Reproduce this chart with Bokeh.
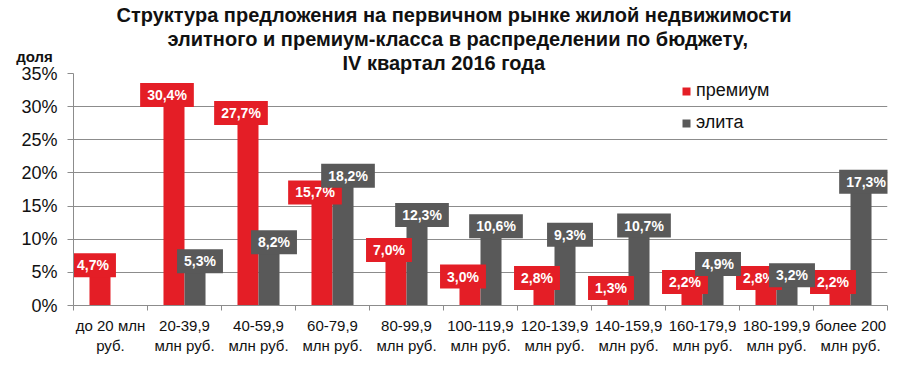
import numpy as np
from bokeh.plotting import figure
from bokeh.models import (ColumnDataSource, Range1d, FixedTicker, Label, Title,
                          Legend, LegendItem, PrintfTickFormatter)
from bokeh.core.properties import value
from bokeh.embed import file_html
from bokeh.resources import INLINE

categories = ["до 20 млн\nруб.", "20-39,9\nмлн руб.", "40-59,9\nмлн руб.", "60-79,9\nмлн руб.",
              "80-99,9\nмлн руб.", "100-119,9\nмлн руб.", "120-139,9\nмлн руб.", "140-159,9\nмлн руб.",
              "160-179,9\nмлн руб.", "180-199,9\nмлн руб.", "более 200\nмлн руб."]
premium = [4.7, 30.4, 27.7, 15.7, 7.0, 3.0, 2.8, 1.3, 2.2, 2.8, 2.2]
elite = [None, 5.3, 8.2, 18.2, 12.3, 10.6, 9.3, 10.7, 4.9, 3.2, 17.3]
y_ticks = [0, 5, 10, 15, 20, 25, 30, 35]
title_lines = ["Структура  предложения на первичном рынке жилой недвижимости",
               "элитного и премиум-класса в распределении по бюджету,",
               "IV квартал 2016 года"]
series_names = ["премиум", "элита"]
y_title = "доля"

RED = "#E41E26"
GREY = "#595959"
GRID = "#8C8C8C"
FONT = "Liberation Sans, Arial, sans-serif"

n = len(categories)
centers = np.arange(n) + 0.5
bw = 0.284

def fmt(v):
    return ("%.1f" % v).replace(".", ",") + "%"

src_p = ColumnDataSource(dict(x=centers - bw / 2, top=premium,
                              label=[fmt(v) for v in premium]))
ei = [i for i, v in enumerate(elite) if v is not None]
src_e = ColumnDataSource(dict(x=[centers[i] + bw / 2 for i in ei], top=[elite[i] for i in ei],
                              label=[fmt(elite[i]) for i in ei]))

p = figure(width=910, height=376, output_backend="svg", toolbar_location=None,
           x_range=Range1d(0, n), y_range=Range1d(0, 35),
           min_border_left=73, min_border_right=23, min_border_top=73, min_border_bottom=71)
p.title_location = None
p.outline_line_color = None
p.background_fill_color = "white"

rp = p.vbar(x="x", top="top", width=bw, source=src_p, fill_color=RED, line_color=None)
re_ = p.vbar(x="x", top="top", width=bw, source=src_e, fill_color=GREY, line_color=None)

# axes
p.xaxis.ticker = FixedTicker(ticks=list(centers), minor_ticks=list(range(n + 1)))
p.xaxis.major_label_overrides = {float(c): categories[i] for i, c in enumerate(centers)}
p.xaxis.major_tick_line_color = None
p.xaxis.major_tick_out = 5
p.xaxis.major_tick_in = 0
p.xaxis.minor_tick_in = 0
p.xaxis.minor_tick_out = 5
p.xaxis.minor_tick_line_color = GRID
p.xaxis.axis_line_color = GRID
p.xaxis.major_label_text_font = FONT
p.xaxis.major_label_text_font_size = "15px"
p.xaxis.major_label_text_color = "#111111"
p.xaxis.major_label_standoff = 6

p.yaxis.ticker = FixedTicker(ticks=y_ticks)
p.yaxis.formatter = PrintfTickFormatter(format="%d%%")
p.yaxis.major_tick_out = 6
p.yaxis.major_tick_in = 0
p.yaxis.minor_tick_line_color = None
p.yaxis.major_tick_line_color = GRID
p.yaxis.axis_line_color = GRID
p.yaxis.major_label_text_font = FONT
p.yaxis.major_label_text_font_size = "18px"
p.yaxis.major_label_text_color = "#111111"
p.yaxis.major_label_standoff = 10

p.xgrid.grid_line_color = None
p.ygrid.ticker = FixedTicker(ticks=y_ticks)
p.ygrid.grid_line_color = GRID
p.ygrid.grid_line_width = 1

# value labels
for src, col, xo in ((src_p, RED, -7), (src_e, GREY, 5)):
    p.text(x="x", y="top", text="label", source=src, x_offset=xo, y_offset=-9,
           text_align="center", text_baseline="middle",
           text_font=value(FONT), text_font_style="bold", text_font_size="14px",
           text_color="white", background_fill_color=col, padding=(7, 4))

# legend
legend = Legend(items=[LegendItem(label=series_names[0], renderers=[rp]),
                       LegendItem(label=series_names[1], renderers=[re_])],
                location=(608, 172), orientation="vertical",
                glyph_width=10, glyph_height=10, label_height=20, spacing=11,
                padding=0, margin=0, label_standoff=5,
                label_text_font=FONT, label_text_font_size="18px", label_text_color="#111111",
                background_fill_alpha=0, border_line_alpha=0)
p.add_layout(legend)

# title lines stacked outward from the frame
for txt, off in zip(reversed(title_lines), [269, 94, 43]):
    p.add_layout(Title(text=txt, align="left", offset=off, standoff=0,
                       text_font=FONT, text_font_style="bold", text_font_size="20px",
                       text_color="#111111"), "above")

# "доля" sits in the spare bottom border slot, shifted up to the top-left corner
p.add_layout(Label(x=-39, y=317, x_units="screen", y_units="screen", text=y_title,
                   text_align="center", text_baseline="middle",
                   text_font=FONT, text_font_style="bold", text_font_size="15px",
                   text_color="#111111"), "below")

open("out.html", "w").write(file_html(p, INLINE))
